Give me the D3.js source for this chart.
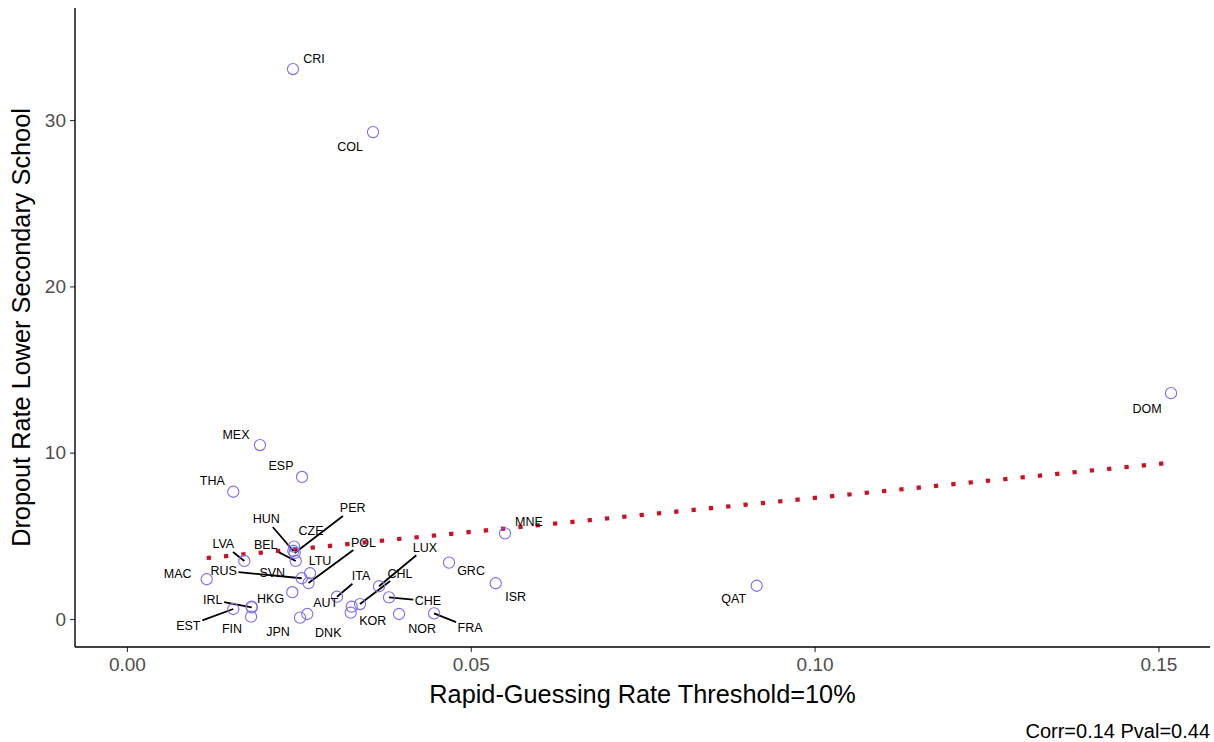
<!DOCTYPE html>
<html>
<head>
<meta charset="utf-8">
<script src="https://cdn.jsdelivr.net/npm/d3@7"></script>
<style>
  body { margin: 0; background: #fff; }
  svg { display: block; font-family: Arial, "Liberation Sans", sans-serif; }
</style>
</head>
<body>
<svg id="chart" width="1214" height="742"></svg>
<script>
// Country codes
const countries = [
  "CRI","COL","MEX","ESP","THA","DOM","QAT","MNE","GRC","ISR","MAC",
  "CZE","HUN","PER","BEL","LVA","RUS","LTU","POL","SVN",
  "EST","IRL","HKG","FIN","JPN","DNK","ITA","AUT","CHL","KOR",
  "LUX","CHE","NOR","FRA"
];
// Rapid-guessing rate (threshold = 10%)
const guessRate = [
  0.02415, 0.03579, 0.01935, 0.02546, 0.01547, 0.15183, 0.09158, 0.05498, 0.04684, 0.05363, 0.01160,
  0.02430, 0.02420, 0.02440, 0.02455, 0.01707, 0.02542, 0.02663, 0.02641, 0.02405,
  0.01547, 0.01815, 0.01813, 0.01805, 0.02517, 0.02623, 0.03055, 0.03269, 0.03390, 0.03254,
  0.03666, 0.03811, 0.03957, 0.04466
];
// Dropout rate, lower secondary school (%)
const dropoutRate = [
  33.07, 29.28, 10.46, 8.54, 7.65, 13.58, 2.00, 5.15, 3.39, 2.15, 2.39,
  4.35, 4.09, 3.97, 3.49, 3.49, 2.45, 2.75, 2.16, 1.61,
  0.60, 0.70, 0.74, 0.14, 0.08, 0.30, 1.34, 0.74, 0.90, 0.38,
  1.97, 1.30, 0.30, 0.34
];
const xTicks = [0, 0.05, 0.10, 0.15];
const yTicks = [0, 10, 20, 30];
const xTitle = "Rapid-Guessing Rate Threshold=10%";
const yTitle = "Dropout Rate Lower Secondary School";
const caption = "Corr=0.14 Pval=0.44";

// Label placement: pixel offset of the label centre from its point, and whether a leader line is drawn
const labelLayout = {
  CRI:[21,-11,0], COL:[-23,14,0], MEX:[-24,-11,0], ESP:[-21,-11,0], THA:[-21,-11,0],
  DOM:[-24,15,0], QAT:[-23,13,0], MNE:[24,-12,0], GRC:[22,8,0], ISR:[20,13,0], MAC:[-29,-6,0],
  CZE:[17,-16,0], HUN:[-27,-32,1], PER:[58,-45,1], BEL:[-30,-16,1], LVA:[-21,-17,1],
  RUS:[-78,-8,1], LTU:[10,-13,0], POL:[55,-41,1], SVN:[-20,-20,0],
  EST:[-45,16,1], IRL:[-39,-8,1], HKG:[19,-8,0], FIN:[-19,12,0], JPN:[-22,14,0],
  DNK:[21,18,0], ITA:[24,-21,1], AUT:[-26,-4,0], CHL:[40,-31,1], KOR:[22,8,0],
  LUX:[46,-39,1], CHE:[39,3,1], NOR:[23,14,0], FRA:[36,14,1]
};

const data = countries.map((c, i) => ({ code: c, x: guessRate[i], y: dropoutRate[i] }));

const svg = d3.select("#chart");
const panel = { left: 75, right: 1210, top: 8, bottom: 647 };

const x = d3.scaleLinear().domain([-0.00755, 0.1575]).range([panel.left, panel.right]);
const y = d3.scaleLinear().domain([-1.684, 36.74]).range([panel.bottom, panel.top]);

// Least-squares trend line across the observed x range
const mx = d3.mean(data, d => d.x), my = d3.mean(data, d => d.y);
const sxy = d3.sum(data, d => (d.x - mx) * (d.y - my));
const sxx = d3.sum(data, d => (d.x - mx) ** 2);
const slope = sxy / sxx, intercept = my - slope * mx;
const [xmin, xmax] = d3.extent(data, d => d.x);
const trend = [xmin, xmax].map(v => ({ x: v, y: intercept + slope * v }));

svg.append("path")
  .datum(trend)
  .attr("d", d3.line().x(d => x(d.x)).y(d => y(d.y)))
  .attr("fill", "none")
  .attr("stroke", "#cc1124")
  .attr("stroke-width", 4.2)
  .attr("stroke-dasharray", "4.3 13.1");

// Labels first so their boxes can clip the leader lines
const labelG = svg.append("g");
const labels = labelG.selectAll("text").data(data).join("text")
  .attr("x", d => x(d.x) + labelLayout[d.code][0])
  .attr("y", d => y(d.y) + labelLayout[d.code][1])
  .attr("dy", "0.36em")
  .attr("text-anchor", "middle")
  .attr("font-size", 12.5)
  .attr("fill", "#000")
  .text(d => d.code);

const segG = svg.insert("g", () => labelG.node());
labels.each(function(d) {
  if (!labelLayout[d.code][2]) return;
  const b = this.getBBox();
  const pad = 1.5;
  const x0 = x(d.x), y0 = y(d.y);
  const cx = b.x + b.width / 2, cy = b.y + b.height / 2;
  const hw = b.width / 2 + pad, hh = b.height / 2 + pad - 1;
  const dx = x0 - cx, dy = y0 - cy;
  const t = Math.min(Math.abs(dx) > 0 ? hw / Math.abs(dx) : Infinity,
                     Math.abs(dy) > 0 ? hh / Math.abs(dy) : Infinity);
  segG.append("line")
    .attr("x1", x0).attr("y1", y0)
    .attr("x2", cx + dx * t).attr("y2", cy + dy * t)
    .attr("stroke", "#000")
    .attr("stroke-width", 1.8);
});

// Points
svg.insert("g", () => labelG.node()).selectAll("circle").data(data).join("circle")
  .attr("cx", d => x(d.x))
  .attr("cy", d => y(d.y))
  .attr("r", 5.6)
  .attr("fill", "none")
  .attr("stroke", "#7b6cf6")
  .attr("stroke-width", 1.1);

// Axes
const xAxis = svg.append("g")
  .attr("transform", `translate(0,${panel.bottom})`)
  .call(d3.axisBottom(x).tickValues(xTicks).tickFormat(d3.format(".2f")).tickSize(5).tickPadding(4));
const yAxis = svg.append("g")
  .attr("transform", `translate(${panel.left},0)`)
  .call(d3.axisLeft(y).tickValues(yTicks).tickFormat(d3.format("d")).tickSize(5).tickPadding(4));

[xAxis, yAxis].forEach(g => {
  g.select(".domain").remove();
  g.selectAll(".tick line").attr("stroke", "#333").attr("stroke-width", 1.1);
  g.selectAll(".tick text").attr("fill", "#4d4d4d").attr("font-size", 19)
    .attr("font-family", "Arial, 'Liberation Sans', sans-serif");
});
xAxis.selectAll(".tick text").attr("dy", "0.78em");

svg.append("line")
  .attr("x1", panel.left).attr("x2", panel.right)
  .attr("y1", panel.bottom).attr("y2", panel.bottom)
  .attr("stroke", "#000").attr("stroke-width", 1.4);
svg.append("line")
  .attr("x1", panel.left).attr("x2", panel.left)
  .attr("y1", panel.top).attr("y2", panel.bottom)
  .attr("stroke", "#000").attr("stroke-width", 1.4);

// Titles and caption
svg.append("text")
  .attr("x", (panel.left + panel.right) / 2).attr("y", 703)
  .attr("text-anchor", "middle").attr("font-size", 25.3).attr("fill", "#000")
  .text(xTitle);
svg.append("text")
  .attr("transform", `translate(30,${(panel.top + panel.bottom) / 2}) rotate(-90)`)
  .attr("text-anchor", "middle").attr("font-size", 25.3).attr("fill", "#000")
  .text(yTitle);
svg.append("text")
  .attr("x", panel.right).attr("y", 738)
  .attr("text-anchor", "end").attr("font-size", 20).attr("fill", "#000")
  .text(caption);
</script>
</body>
</html>
